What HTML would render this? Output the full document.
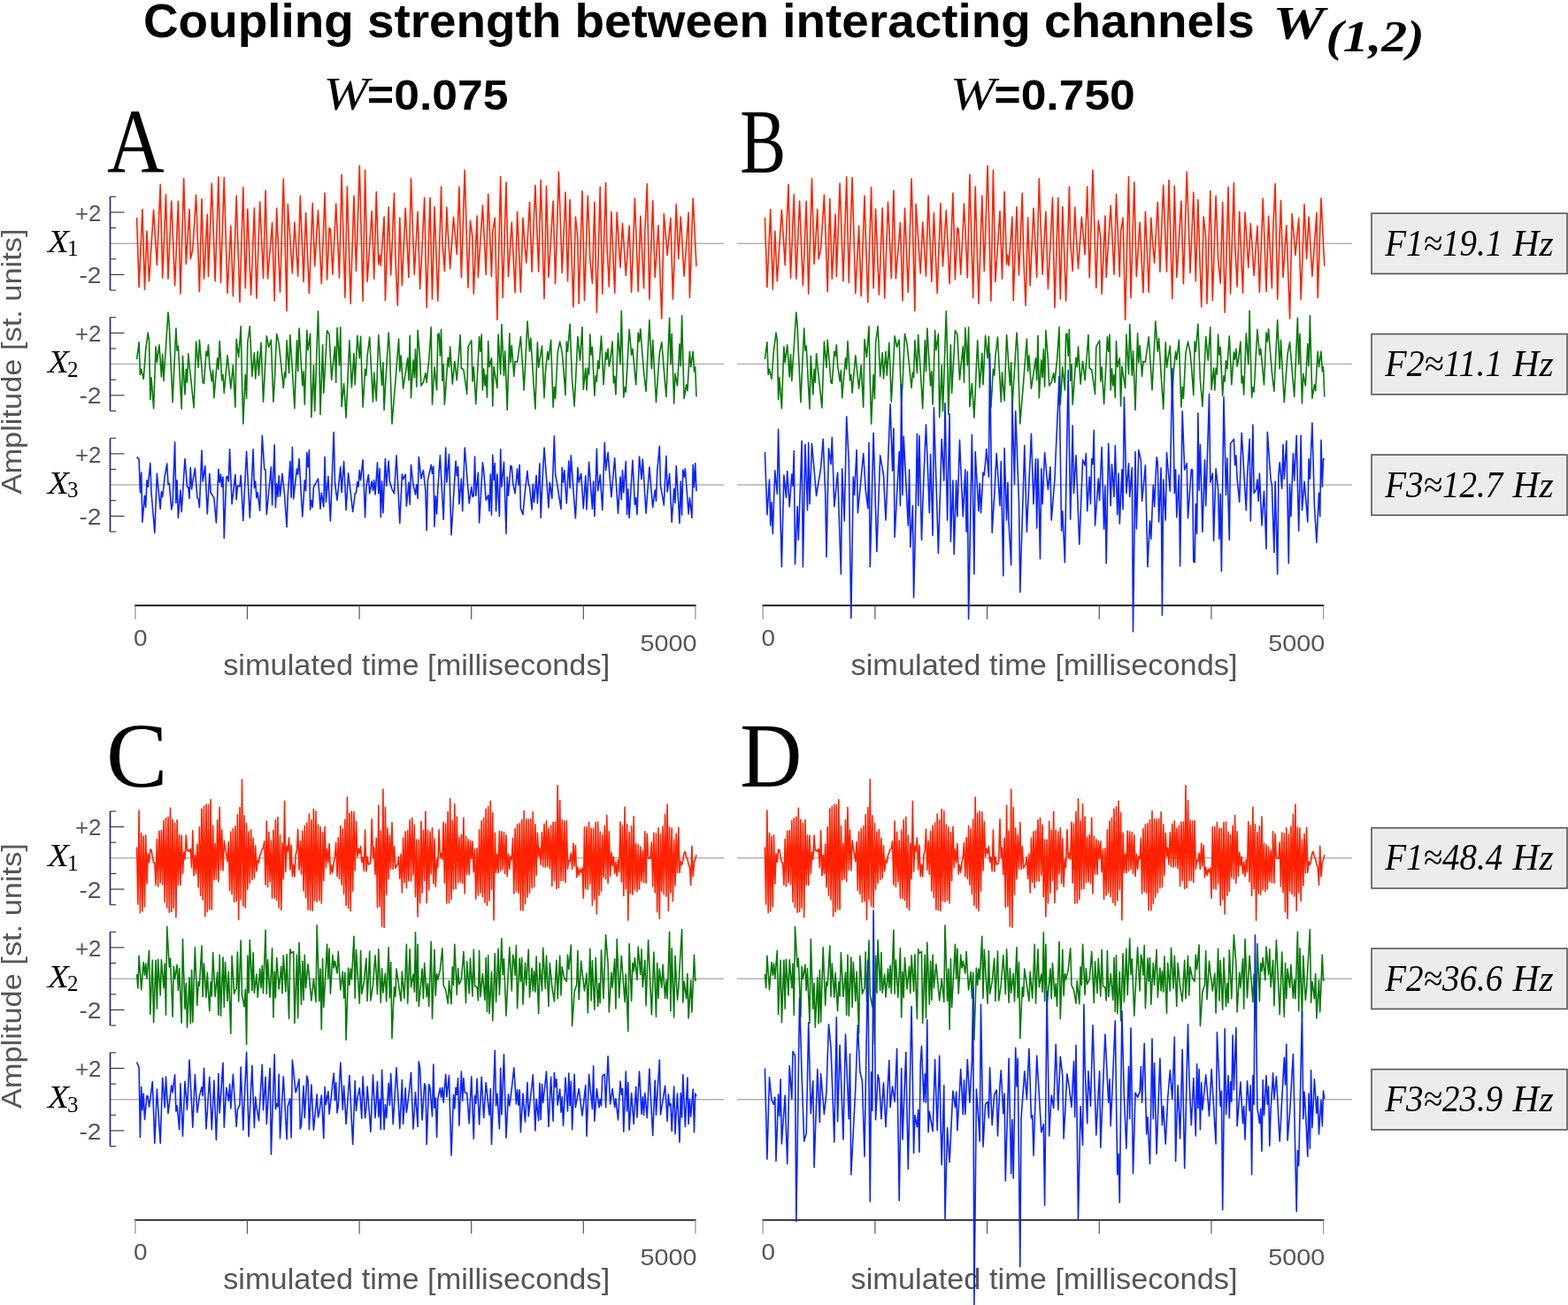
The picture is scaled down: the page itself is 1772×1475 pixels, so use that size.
<!DOCTYPE html><html><head><meta charset="utf-8"><title>Coupling strength</title><style>html,body{margin:0;padding:0;background:#fff;overflow:hidden}svg{display:block}</style></head><body><svg width="1772" height="1475" viewBox="0 0 1772 1475">
<style>.pl{font-family:"Liberation Serif",serif;font-size:104px;fill:#000}.zl{stroke:#b3b3b3;stroke-width:1.5}.ya{stroke:#0b1ca6;stroke-width:1.6}.tk{stroke:#383838;stroke-width:1.15}.tk2{stroke:#999;stroke-width:1.3}.tk3{stroke:#555;stroke-width:1.2}.xa{stroke:#000;stroke-width:1.7}.tl{font-family:"Liberation Sans",sans-serif;font-size:26.5px;fill:#555}.xt{font-family:"Liberation Sans",sans-serif;font-size:33px;fill:#555}.al{font-family:"Liberation Sans",sans-serif;font-size:31px;fill:#555}.xl{font-family:"Liberation Serif",serif;font-style:italic;font-size:35px;fill:#000}.sub{font-family:"Liberation Serif",serif;font-size:25px;fill:#000}.bx{fill:#ececec;stroke:#555;stroke-width:1.6}.bt{font-family:"Liberation Serif",serif;font-style:italic;font-size:42px;fill:#000}.ti{font-family:"Liberation Sans",sans-serif;font-weight:bold;font-size:53px;fill:#000}.hd{font-family:"Liberation Sans",sans-serif;font-weight:bold;font-size:48px;fill:#000}.hw{font-family:"Liberation Serif",serif;font-style:italic;font-size:53px;fill:#000}.sig{fill:none;stroke-width:1.5;stroke-linejoin:round}</style>
<rect width="100%" height="100%" fill="#fff"/>
<text x="162" y="41.5" class="ti" textLength="1255.8" lengthAdjust="spacingAndGlyphs">Coupling strength between interacting channels</text>
<text transform="translate(1438.6 44.2) scale(1.24 1)" class="hw" font-weight="bold">W</text>
<text x="1498.5" y="58.3" class="hw" font-weight="bold" style="font-size:50px" textLength="111" lengthAdjust="spacingAndGlyphs">(1,2)</text>
<text transform="translate(365.5 124.3) scale(1.15 1)" class="hw">W</text>
<text x="415.1" y="123.9" class="hd" textLength="159.3" lengthAdjust="spacingAndGlyphs">=0.075</text>
<text transform="translate(1073.9 124.3) scale(1.15 1)" class="hw">W</text>
<text x="1123.5" y="123.9" class="hd" textLength="159.3" lengthAdjust="spacingAndGlyphs">=0.750</text>
<text transform="translate(121.1 194.5) scale(0.8625 1)" class="pl">A</text>
<text transform="translate(836.25 194.5) scale(0.75 1)" class="pl">B</text>
<line x1="124.5" y1="275.20" x2="818" y2="275.20" class="zl"/>
<line x1="833" y1="275.20" x2="1528" y2="275.20" class="zl"/>
<line x1="124.5" y1="222.34" x2="124.5" y2="328.06" class="ya"/>
<line x1="124.5" y1="328.06" x2="131.0" y2="328.06" class="tk"/>
<line x1="124.5" y1="310.44" x2="140.5" y2="310.44" class="tk"/>
<line x1="124.5" y1="292.82" x2="131.0" y2="292.82" class="tk"/>
<line x1="124.5" y1="257.58" x2="131.0" y2="257.58" class="tk"/>
<line x1="124.5" y1="239.96" x2="140.5" y2="239.96" class="tk"/>
<line x1="124.5" y1="222.34" x2="131.0" y2="222.34" class="tk"/>
<text x="85" y="249.6" class="tl" textLength="29.5" lengthAdjust="spacingAndGlyphs">+2</text>
<text x="89.5" y="320.0" class="tl" textLength="25" lengthAdjust="spacingAndGlyphs">-2</text>
<text transform="translate(54.1 284.8) scale(1.12 1)" class="xl">X</text>
<text x="76" y="289.1" class="sub">1</text>
<line x1="124.5" y1="411.60" x2="818" y2="411.60" class="zl"/>
<line x1="833" y1="411.60" x2="1528" y2="411.60" class="zl"/>
<line x1="124.5" y1="358.74" x2="124.5" y2="464.46" class="ya"/>
<line x1="124.5" y1="464.46" x2="131.0" y2="464.46" class="tk"/>
<line x1="124.5" y1="446.84" x2="140.5" y2="446.84" class="tk"/>
<line x1="124.5" y1="429.22" x2="131.0" y2="429.22" class="tk"/>
<line x1="124.5" y1="393.98" x2="131.0" y2="393.98" class="tk"/>
<line x1="124.5" y1="376.36" x2="140.5" y2="376.36" class="tk"/>
<line x1="124.5" y1="358.74" x2="131.0" y2="358.74" class="tk"/>
<text x="85" y="386.0" class="tl" textLength="29.5" lengthAdjust="spacingAndGlyphs">+2</text>
<text x="89.5" y="456.4" class="tl" textLength="25" lengthAdjust="spacingAndGlyphs">-2</text>
<text transform="translate(54.1 421.2) scale(1.12 1)" class="xl">X</text>
<text x="76" y="425.5" class="sub">2</text>
<line x1="124.5" y1="548.10" x2="818" y2="548.10" class="zl"/>
<line x1="833" y1="548.10" x2="1528" y2="548.10" class="zl"/>
<line x1="124.5" y1="495.24" x2="124.5" y2="600.96" class="ya"/>
<line x1="124.5" y1="600.96" x2="131.0" y2="600.96" class="tk"/>
<line x1="124.5" y1="583.34" x2="140.5" y2="583.34" class="tk"/>
<line x1="124.5" y1="565.72" x2="131.0" y2="565.72" class="tk"/>
<line x1="124.5" y1="530.48" x2="131.0" y2="530.48" class="tk"/>
<line x1="124.5" y1="512.86" x2="140.5" y2="512.86" class="tk"/>
<line x1="124.5" y1="495.24" x2="131.0" y2="495.24" class="tk"/>
<text x="85" y="522.5" class="tl" textLength="29.5" lengthAdjust="spacingAndGlyphs">+2</text>
<text x="89.5" y="592.9" class="tl" textLength="25" lengthAdjust="spacingAndGlyphs">-2</text>
<text transform="translate(54.1 557.7) scale(1.12 1)" class="xl">X</text>
<text x="76" y="562.0" class="sub">3</text>
<text transform="translate(24,408.5) rotate(-90)" class="al" text-anchor="middle" textLength="300" lengthAdjust="spacingAndGlyphs">Amplitude [st. units]</text>
<line x1="152.1" y1="684.4" x2="786.6999999999999" y2="684.4" class="xa"/>
<line x1="152.90" y1="684.4" x2="152.90" y2="699.9" class="tk2"/>
<line x1="279.50" y1="684.4" x2="279.50" y2="699.9" class="tk3"/>
<line x1="406.10" y1="684.4" x2="406.10" y2="699.9" class="tk3"/>
<line x1="532.70" y1="684.4" x2="532.70" y2="699.9" class="tk3"/>
<line x1="659.30" y1="684.4" x2="659.30" y2="699.9" class="tk3"/>
<line x1="785.90" y1="684.4" x2="785.90" y2="699.9" class="tk2"/>
<text x="151.1" y="729.6" class="tl" textLength="15.5" lengthAdjust="spacingAndGlyphs">0</text>
<text x="723.6" y="735.6999999999999" class="tl" textLength="64" lengthAdjust="spacingAndGlyphs">5000</text>
<text x="252.2" y="762.5" class="xt" textLength="437" lengthAdjust="spacingAndGlyphs">simulated time [milliseconds]</text>
<line x1="861.4000000000001" y1="684.4" x2="1496.3999999999999" y2="684.4" class="xa"/>
<line x1="862.20" y1="684.4" x2="862.20" y2="699.9" class="tk2"/>
<line x1="988.88" y1="684.4" x2="988.88" y2="699.9" class="tk3"/>
<line x1="1115.56" y1="684.4" x2="1115.56" y2="699.9" class="tk3"/>
<line x1="1242.24" y1="684.4" x2="1242.24" y2="699.9" class="tk3"/>
<line x1="1368.92" y1="684.4" x2="1368.92" y2="699.9" class="tk3"/>
<line x1="1495.60" y1="684.4" x2="1495.60" y2="699.9" class="tk2"/>
<text x="860.4000000000001" y="729.6" class="tl" textLength="15.5" lengthAdjust="spacingAndGlyphs">0</text>
<text x="1433.3" y="735.6999999999999" class="tl" textLength="64" lengthAdjust="spacingAndGlyphs">5000</text>
<text x="961.5" y="762.5" class="xt" textLength="437" lengthAdjust="spacingAndGlyphs">simulated time [milliseconds]</text>
<text transform="translate(120 889.1) scale(1.0 1)" class="pl">C</text>
<text transform="translate(836.2 889.1) scale(0.934 1)" class="pl">D</text>
<line x1="124.5" y1="969.80" x2="818" y2="969.80" class="zl"/>
<line x1="833" y1="969.80" x2="1528" y2="969.80" class="zl"/>
<line x1="124.5" y1="916.94" x2="124.5" y2="1022.66" class="ya"/>
<line x1="124.5" y1="1022.66" x2="131.0" y2="1022.66" class="tk"/>
<line x1="124.5" y1="1005.04" x2="140.5" y2="1005.04" class="tk"/>
<line x1="124.5" y1="987.42" x2="131.0" y2="987.42" class="tk"/>
<line x1="124.5" y1="952.18" x2="131.0" y2="952.18" class="tk"/>
<line x1="124.5" y1="934.56" x2="140.5" y2="934.56" class="tk"/>
<line x1="124.5" y1="916.94" x2="131.0" y2="916.94" class="tk"/>
<text x="85" y="944.2" class="tl" textLength="29.5" lengthAdjust="spacingAndGlyphs">+2</text>
<text x="89.5" y="1014.6" class="tl" textLength="25" lengthAdjust="spacingAndGlyphs">-2</text>
<text transform="translate(54.1 979.4) scale(1.12 1)" class="xl">X</text>
<text x="76" y="983.7" class="sub">1</text>
<line x1="124.5" y1="1106.20" x2="818" y2="1106.20" class="zl"/>
<line x1="833" y1="1106.20" x2="1528" y2="1106.20" class="zl"/>
<line x1="124.5" y1="1053.34" x2="124.5" y2="1159.06" class="ya"/>
<line x1="124.5" y1="1159.06" x2="131.0" y2="1159.06" class="tk"/>
<line x1="124.5" y1="1141.44" x2="140.5" y2="1141.44" class="tk"/>
<line x1="124.5" y1="1123.82" x2="131.0" y2="1123.82" class="tk"/>
<line x1="124.5" y1="1088.58" x2="131.0" y2="1088.58" class="tk"/>
<line x1="124.5" y1="1070.96" x2="140.5" y2="1070.96" class="tk"/>
<line x1="124.5" y1="1053.34" x2="131.0" y2="1053.34" class="tk"/>
<text x="85" y="1080.6" class="tl" textLength="29.5" lengthAdjust="spacingAndGlyphs">+2</text>
<text x="89.5" y="1151.0" class="tl" textLength="25" lengthAdjust="spacingAndGlyphs">-2</text>
<text transform="translate(54.1 1115.8) scale(1.12 1)" class="xl">X</text>
<text x="76" y="1120.1" class="sub">2</text>
<line x1="124.5" y1="1242.70" x2="818" y2="1242.70" class="zl"/>
<line x1="833" y1="1242.70" x2="1528" y2="1242.70" class="zl"/>
<line x1="124.5" y1="1189.84" x2="124.5" y2="1295.56" class="ya"/>
<line x1="124.5" y1="1295.56" x2="131.0" y2="1295.56" class="tk"/>
<line x1="124.5" y1="1277.94" x2="140.5" y2="1277.94" class="tk"/>
<line x1="124.5" y1="1260.32" x2="131.0" y2="1260.32" class="tk"/>
<line x1="124.5" y1="1225.08" x2="131.0" y2="1225.08" class="tk"/>
<line x1="124.5" y1="1207.46" x2="140.5" y2="1207.46" class="tk"/>
<line x1="124.5" y1="1189.84" x2="131.0" y2="1189.84" class="tk"/>
<text x="85" y="1217.1" class="tl" textLength="29.5" lengthAdjust="spacingAndGlyphs">+2</text>
<text x="89.5" y="1287.5" class="tl" textLength="25" lengthAdjust="spacingAndGlyphs">-2</text>
<text transform="translate(54.1 1252.3) scale(1.12 1)" class="xl">X</text>
<text x="76" y="1256.6" class="sub">3</text>
<text transform="translate(24,1103.1) rotate(-90)" class="al" text-anchor="middle" textLength="300" lengthAdjust="spacingAndGlyphs">Amplitude [st. units]</text>
<line x1="152.1" y1="1379.0" x2="786.6999999999999" y2="1379.0" class="xa"/>
<line x1="152.90" y1="1379.0" x2="152.90" y2="1394.5" class="tk2"/>
<line x1="279.50" y1="1379.0" x2="279.50" y2="1394.5" class="tk3"/>
<line x1="406.10" y1="1379.0" x2="406.10" y2="1394.5" class="tk3"/>
<line x1="532.70" y1="1379.0" x2="532.70" y2="1394.5" class="tk3"/>
<line x1="659.30" y1="1379.0" x2="659.30" y2="1394.5" class="tk3"/>
<line x1="785.90" y1="1379.0" x2="785.90" y2="1394.5" class="tk2"/>
<text x="151.1" y="1424.2" class="tl" textLength="15.5" lengthAdjust="spacingAndGlyphs">0</text>
<text x="723.6" y="1430.3" class="tl" textLength="64" lengthAdjust="spacingAndGlyphs">5000</text>
<text x="252.2" y="1457.1" class="xt" textLength="437" lengthAdjust="spacingAndGlyphs">simulated time [milliseconds]</text>
<line x1="861.4000000000001" y1="1379.0" x2="1496.3999999999999" y2="1379.0" class="xa"/>
<line x1="862.20" y1="1379.0" x2="862.20" y2="1394.5" class="tk2"/>
<line x1="988.88" y1="1379.0" x2="988.88" y2="1394.5" class="tk3"/>
<line x1="1115.56" y1="1379.0" x2="1115.56" y2="1394.5" class="tk3"/>
<line x1="1242.24" y1="1379.0" x2="1242.24" y2="1394.5" class="tk3"/>
<line x1="1368.92" y1="1379.0" x2="1368.92" y2="1394.5" class="tk3"/>
<line x1="1495.60" y1="1379.0" x2="1495.60" y2="1394.5" class="tk2"/>
<text x="860.4000000000001" y="1424.2" class="tl" textLength="15.5" lengthAdjust="spacingAndGlyphs">0</text>
<text x="1433.3" y="1430.3" class="tl" textLength="64" lengthAdjust="spacingAndGlyphs">5000</text>
<text x="961.5" y="1457.1" class="xt" textLength="437" lengthAdjust="spacingAndGlyphs">simulated time [milliseconds]</text>
<g transform="scale(0.1)" fill="none" stroke-width="16" stroke-linejoin="round"><path transform="translate(1546 2752)" stroke="#ff2200" d="M0 -292l13 393 12 393 13-293 13-293 12-294 13 453 13 452 12-329 13-329 12 282 13 282 13-201 12-201 13-201 13-201 12 208 13 207 13 208 12-303 13-304 13-303 12 528 13 528 13-314 12-315 13-315 12 477 13 477 13-293 12-293 13-293 13 318 12 318 13 318 13-318 12-318 13-318 13 524 12 524 13-435 13-434 12-435 13 484 13 483 12-206 13-206 12-206 13 562 13-56 12-56 13-204 13-204 12-204 13 364 13 364 12 364 13-524 13-524 12 452 13 452 13-243 12-243 13-243 12 704 13-351 13-351 12-352 13 368 13 368 12 368 13-393 13-393 12-393 13 599 13 599 12-396 13-397 13-396 12 436 13 436 12 436 13-254 13-254 12-253 13 396 13 396 12-377 13-378 13-377 12 400 13 400 13 400 12-432 13-433 13-432 12 571 13 570 13-447 12-447 13 323 12 323 13 323 13-327 12-327 13-328 13 510 12 510 13-363 13-363 12-363 13 288 13 288 12 288 13-497 13-497 12 499 13 499 12-159 13-158 13-158 12-159 13 443 13 443 12-524 13-524 13 316 12 316 13 316 13-427 12-428 13-427 13 498 12 498 13 498 12-1207 13 195 13 196 12 196 13 196 13-290 12-290 13 204 13 203 12 204 13-453 13-454 12 323 13 323 13 324 12-389 13-389 12 303 13 303 13 303 12-339 13-339 13-339 12 355 13 356 13-210 12-210 13-210 13 276 12 277 13 276 13-342 12-342 13-342 13 488 12 489 13-292 12-291 13 17 13 255 12 254 13-266 13-266 12-266 13 279 13 278 12 279 13-583 13-584 12 464 13 464 13 463 12-626 13-627 12 440 13 441 13 441 12-406 13-406 13-407 12 426 13 425 13-397 12-397 13-397 13 509 12 509 13 510 13-739 12-739 13 630 12 630 13-199 13-199 12-198 13-199 13 382 12 381 13-491 13-492 12 411 13 410 13-106 12 119 13-184 13-184 12-184 13 945 13-353 12-352 13-352 12 385 13 385 13-309 12-309 13-309 13 683 12 294 13 293 13-496 12-496 13 384 13 383 12-291 13-291 13-291 12 260 13 260 12 260 13-559 13-558 12 362 13 362 13 361 12-236 13-236 13-236 12 435 13 436 13-239 12-238 13-278 13-278 12 622 13 623 12-414 13-414 13-414 12 574 13 574 13-524 12-524 13 356 13 355 12 356 13-431 13-430 12-430 13 630 13 162 12 162 13-360 12-361 13 274 13 210 12 210 13-195 13-195 12-194 13 140 13 141 12 140 13-382 13-382 12 513 13 513 13-404 12-405 13-404 13 442 12 443 13 443 12-379 13-379 13 98 12 99 13 630 13-293 12-294 13-293 13 693 12-203 13-203 13-203 12-202 13 260 13 260 12 259 13-455 12-455 13 312 13 312 12 311 13-514 13-74 12-75 13 575 13 575 12-540 13-540 13-539 12 685 13 684 13-434 12-435 13-434 12 533 13 533 13-204 12-205 13-204 13 265 12 264 13 265 13-457 12-457 13 303 13 302 12 303 13-419 13-419 12 182 13 182 13 143 12-228 13-229 12-229 13 393 13 393 12-325 13-326 13-326 12 326 13 326 13 325 12-517 13-518 13 447 12 447 13 447 13-638 12-637 13 516 12 516 13-216 13-215 12-215 13-215 13 468 12 467 13-422 13-422 12-422 13 381 13 380 12 381 13-304 13-303 12-304 13 502 12 502 13-460 13-460 12 404 13 405 13 404 12-509 13-510 13 120 12 120 13 742 13-425 12-426 13-425 13 619 12 620 13-394 12-394 13-394 13 357 12 357 13 137 13 137 12-458 13-459 13 624 12 624 13-473 13-473 12-473 13 604 13 603 12-418 13-418 13-418 12 686 13 243 12 244 13-423 13-423 12 306 13 306 13 306 12-455 13-456 13 208 12 208 13 208 13-249 12-250 13 196 13 197 12 196 13-187 12-187 13-187 13 374 12 374 13-353 13-352 12-353 13 351 13 350 12 351 13-426 13-426 12 271 13 272 13 271 12-632 13-275 12-274 13 653 13 653 12-372 13-372 13-372 12 433 13 434 13-196 12-195 13-196 13 352 12 351 13 351 13-592 12-593 13 156 13 156 12 156 13-139 12-139 13-140 13 459 12 458 13-357 13-358 12-358 13 308 13 307 12-237 13-237 13 224 12 223 13 223 13-179 12-179 13-180 12-179 13 960 13-374 12-374 13-374 13 255 12 256 13 256"/>
<path transform="translate(1546 4116)" stroke="#067a08" d="M0 -55l13-97 12-97 13 368 13-62 12 56 13 56 13-167 12-167 13-95 12-95 13 88 13 667 12-249 13 174 13 175 12-349 13-350 13 181 12-100 13-99 13 180 12 181 13-255 13 299 12-193 13-194 12-193 13-193 13 143 12 291 13 291 13 291 12-278 13-279 13-279 12 250 13-50 13 237 12 237 13 237 13-599 12 219 13 218 13-287 12 150 13-325 12 123 13 122 13 122 12 122 13 123 13-375 12-374 13 147 13 146 12-312 13 161 13 160 12 160 13 12 13-181 12-181 13 50 12-124 13 230 13 91 12 90 13-124 13 311 12-149 13-150 13-150 12 125 13-318 13 221 12 222 13-63 13 206 12-141 13-142 12-141 13 125 13 125 12 124 13-131 13-131 12 237 13 237 13-767 12 100 13 100 13-175 12-174 13 630 13 474 12-278 13-278 13 269 12-630 13-94 12-93 13 283 13 284 12-134 13-134 13 293 12-153 13-153 13 269 12-184 13-184 13 333 12 334 13-247 13-248 12-247 13 62 12 63 13-41 13-41 12 350 13 349 13-200 12-283 13-284 13 55 12 55 13 125 13 125 12 126 13 125 13-175 12 57 13-418 12 184 13 184 13-431 12 201 13 201 13 214 12 214 13-384 13-383 12 349 13-487 13 217 12 216 13 216 13-162 12 374 13-419 12-419 13 224 13-92 12-92 13 942 13-293 12-294 13 518 13-376 12-377 13-376 13 499 12 668 13-393 13-393 12 542 13-235 13-235 12-235 13 22 12 22 13 256 13 256 12-125 13-125 13-125 12 406 13-618 13 212 12 212 13-430 13 898 12-131 13-131 13 194 12 193 13-291 12-291 13-291 13 265 12 265 13-193 13-194 12 356 13-278 13-277 12 127 13 128 13-245 12 400 13 400 13-215 12-215 13 69 12-219 13-106 13-106 12 244 13 243 13 243 12-331 13 160 13 159 12-372 13-371 13 190 12 189 13 189 13-256 12 537 13-256 13-206 12-206 13-206 12 194 13 418 13 418 12-154 13-154 13-154 12-166 13-167 13-166 12 368 13-181 13 187 12 187 13-85 13-86 12-86 13-86 12 250 13-505 13 704 12-215 13-215 13 200 12-318 13 424 13-639 12 166 13 167 13 293 12-19 13-18 13-53 12-53 13 106 12-124 13-123 13-189 12-188 13 873 13-212 12-212 13 131 13 131 12-630 13-12 13 255 12-299 13 580 13-187 12 455 13-176 12-177 13-177 13 106 12-231 13 212 13 212 12-127 13-128 13 106 12 106 13-171 13-170 12-171 13 375 13 9 12 9 13 92 13 91 12 92 13-533 12-24 13-24 13-24 12 461 13-162 13 209 12 209 13-254 13-253 12-254 13 168 13-193 12 630 13-243 13 193 12-125 13 256 12-636 13 293 13-50 12-50 13 543 13-449 12 81 13 81 13 81 12-605 13 225 13 224 12-561 13 290 13 290 12-281 13 334 12 334 13-434 13-433 12 330 13-193 13 174 12 175 13-168 13 3 12 3 13-96 13-95 12-96 13 202 13 201 12 202 13-260 13-260 12-260 13 172 12 171 13-149 13 199 12 200 13 200 13 199 12-377 13-378 13 287 12-81 13-81 13-81 12 293 13 293 13-268 12-128 13-128 12 94 13-112 13-113 12 381 13 380 13-230 12 131 13-258 13-258 12-63 13-64 13 63 12 62 13 137 13 172 12 171 13-605 12 112 13-154 13-155 12 317 13 317 13 146 12 147 13-262 13-262 12-262 13 134 13 134 12-187 13-187 13 705 12-122 13-121 12 249 13-249 13 68 12-449 13 231 13-87 12 274 13 274 13-224 12 62 13-231 13 88 12-184 13-184 13 274 12 275 13-184 13-184 12 81 13-119 12 200 13-63 13-109 12-109 13 468 13-75 12 206 13-346 13-346 12 174 13 175 13-605 12 490 13 489 13-112 12 50 13-235 12-235 13-235 13 143 12 144 13-69 13 135 12 136 13 135 13-293 12-294 13 100 13-143 12 164 13 164 13 164 12 107 13 106 12-269 13-268 13-268 12 274 13 275 13-325 12 235 13 235 13 235 12-182 13-182 13-182 12-67 13-67 13 155 12 154 13 155 13 154 12-297 13-298 12-297 13 524 13-343 12 393 13 393 13-337 12 69 13 68 13-237 12-237 13 250 13-568 12 468 13 468 13-78 12-78 13 68 12-221 13-222 13 175 12-87 13-88 13 225 12-50 13 337"/>
<path d="M1546 5166l13 13 12 12 13 375 13-225 12 561 13-149 13-150 12 131 13-306 12 75 13-134 13-134 12 331 13 151 13 152 12 152 13-334 13-334 12 134 13 133 13 133 12-194 13 56 13-115 12-115 13-72 12-72 13 231 13-6 12 146 13 147 13-56 12-353 13-352 13 686 12-256 13 424 13-155 12-156 13 243 13-200 12-199 13-200 13 159 12 159 13 6 12 125 13-349 13 243 12-79 13-79 13-79 12 168 13 169 13 12 12 94 13-321 13-322 12 350 13-88 13-87 12 271 13 272 12-228 13-228 13 213 12 20 13 21 13 21 12 140 13 141 13-303 12-302 13 149 13-93 12 143 13-112 13 692 12-346 13-346 12-6 13 56 13-362 12 309 13 309 13-111 12-110 13-110 13 281 12-156 13 3 13 3 12-125 13 256 13 256 12-260 13-260 13-260 12 249 13 250 12 249 13-257 13-258 12-258 13 437 13-75 12 187 13-62 13 102 12 103 13-424 13-424 12 190 13 191 13 6 12 505 13-134 12-134 13-134 13-134 12 430 13-340 13-340 12 705 13-268 13 149 12-237 13 231 13-128 12-128 13 122 13 122 12 181 13 180 12-361 13-191 13-190 12 406 13-568 13 586 12-113 13-113 13-113 12 59 13-175 13 218 12 219 13 218 13-206 12-206 13 119 12-431 13 163 13-194 12 674 13-106 13 81 12-225 13-25 13-25 12-24 13-25 13 171 12 172 13-181 13 78 12 78 13-562 13 506 12-144 13-143 12 252 13 253 13-335 12-335 13-334 13 567 12 100 13 100 13-125 12-125 13-124 13 287 12-175 13-175 13 275 12 274 13-209 12-209 13 109 13 110 12 109 13 109 13-103 12-103 13-6 13-125 12 56 13-187 13 112 12-115 13-115 13 324 12 324 13-343 12-68 13-69 13 212 12-69 13-68 13 100 12-113 13 162 13-180 12-181 13 349 13-281 12 549 13-405 13 355 12-305 13-306 13 306 12-141 13-140 12 231 13 43 13 44 12 25 13 25 13-215 12-215 13 255 13 256 12 256 13-278 13-277 12 56 13-28 13-28 12 361 13-134 12-134 13 250 13-449 12 112 13 112 13 56 12 56 13-112 13 156 12-468 13 122 13 122 12-47 13-47 13 119 12 118 13 443 12-570 13-58 13-57 12-57 13 99 13-81 12 680 13-343 13 200 12-281 13-190 13-190 12 241 13 241 13 241 12-405 13-406 12 393 13-159 13-159 12 455 13 456 13-209 12-209 13-209 13-209 12 168 13-106 13 425 12-144 13-143 13 368 12-359 13-359 13 159 12 159 13 156 12 156 13-93 13-94 12 112 13-12 13-443 12 443 13-131 13-131 12 568 13-227 13-227 12-226 13 93 13 166 12 165 13-28 12-28 13 181 13-418 12 461 13-680 13 287 12-193 13 543 13-418 12 237 13 237 13-755 12 424 13-140 13-141 12 406 13 405 12-642 13 212 13-168 12-169 13 6 13 181 12 63 13 62 13-140 12-141 13 187 13-230 12 492 13 35 13 34 12-137 13-137 13-110 12-109 13 156 12 19 13 131 13 131 12-287 13 206 13-153 12-153 13 318 13-224 12-225 13 611 13-311 12-241 13-240 13 170 12 170 13 170 12 170 13-287 13 91 12 90 13-352 13-353 12 424 13 77 13 76 12 82 13 82 13 83 12-468 13 168 13-137 12 187 13 187 12-240 13-240 13 306 12-368 13 191 13 192 12 164 13 164 13-287 12-287 13 168 13-50 12-50 13 197 13 196 12-184 13-184 12 381 13-268 13-269 12 177 13 177 13 177 12-312 13 393 13-381 12-380 13 474 13-91 12-90 13 200 13 199 12-380 13-381 13 312 12-100 13-100 12 168 13 167 13 167 12-146 13-147 13-146 12 208 13 208 13 208 12-206 13-206 13 256 12-331 13 250 13-175 12-175 13 599 12-287 13 324 13-216 12-216 13-216 13 249 12 250 13-75 13 187 12-327 13-328 13 128 12 128 13-225 13 204 12 204 13 204 12-175 13-175 13-174 12 151 13 152 13 152 12-98 13-98 13 127 12-334 13-145 13-144 12 449 13 72 13 73 12 73 13-278 13-277 12 405 13-101 12-102 13 273 13 273 12-190 13-190 13 162 12-418 13 216 13 217 12 216 13-474 13 380 12-511 13 81 13-94 12 171 13 170 12 171 13-181 13 112 12 112 13-598 13 255 12-274 13 318" stroke="#0b24ff"/>
<path transform="translate(8644 2752)" stroke="#ff2200" d="M0 -292l13 393 12 393 13-293 13-293 12-294 13 453 13 452 12-329 13-329 12 282 13 282 13-201 12-201 13-201 13-201 12 208 13 207 13 208 12-303 13-304 13-303 12 528 13 528 13-314 12-315 13-315 12 477 13 477 13-293 12-293 13-293 13 318 12 318 13 318 13-318 12-318 13-318 13 524 12 524 13-435 13-434 12-435 13 484 13 483 12-206 13-206 12-206 13 562 13-56 12-56 13-204 13-204 12-204 13 364 13 364 12 364 13-524 13-524 12 452 13 452 13-243 12-243 13-243 12 704 13-351 13-351 12-352 13 368 13 368 12 368 13-393 13-393 12-393 13 599 13 599 12-396 13-397 13-396 12 436 13 436 12 436 13-254 13-254 12-253 13 396 13 396 12-377 13-378 13-377 12 400 13 400 13 400 12-432 13-433 13-432 12 571 13 570 13-447 12-447 13 323 12 323 13 323 13-327 12-327 13-328 13 510 12 510 13-363 13-363 12-363 13 288 13 288 12 288 13-497 13-497 12 499 13 499 12-159 13-158 13-158 12-159 13 443 13 443 12-524 13-524 13 316 12 316 13 316 13-427 12-428 13-427 13 498 12 498 13 498 12-1207 13 195 13 196 12 196 13 196 13-290 12-290 13 204 13 203 12 204 13-453 13-454 12 323 13 323 13 324 12-389 13-389 12 303 13 303 13 303 12-339 13-339 13-339 12 355 13 356 13-210 12-210 13-210 13 276 12 277 13 276 13-342 12-342 13-342 13 488 12 489 13-292 12-291 13 17 13 255 12 254 13-266 13-266 12-266 13 279 13 278 12 279 13-583 13-584 12 464 13 464 13 463 12-626 13-627 12 440 13 441 13 441 12-406 13-406 13-407 12 426 13 425 13-397 12-397 13-397 13 509 12 509 13 510 13-739 12-739 13 630 12 630 13-199 13-199 12-198 13-199 13 382 12 381 13-491 13-492 12 411 13 410 13-106 12 119 13-184 13-184 12-184 13 945 13-353 12-352 13-352 12 385 13 385 13-309 12-309 13-309 13 683 12 294 13 293 13-496 12-496 13 384 13 383 12-291 13-291 13-291 12 260 13 260 12 260 13-559 13-558 12 362 13 362 13 361 12-236 13-236 13-236 12 435 13 436 13-239 12-238 13-278 13-278 12 622 13 623 12-414 13-414 13-414 12 574 13 574 13-524 12-524 13 356 13 355 12 356 13-431 13-430 12-430 13 630 13 162 12 162 13-360 12-361 13 274 13 210 12 210 13-195 13-195 12-194 13 140 13 141 12 140 13-382 13-382 12 513 13 513 13-404 12-405 13-404 13 442 12 443 13 443 12-379 13-379 13 98 12 99 13 630 13-293 12-294 13-293 13 693 12-203 13-203 13-203 12-202 13 260 13 260 12 259 13-455 12-455 13 312 13 312 12 311 13-514 13-74 12-75 13 575 13 575 12-540 13-540 13-539 12 685 13 684 13-434 12-435 13-434 12 533 13 533 13-204 12-205 13-204 13 265 12 264 13 265 13-457 12-457 13 303 13 302 12 303 13-419 13-419 12 182 13 182 13 143 12-228 13-229 12-229 13 393 13 393 12-325 13-326 13-326 12 326 13 326 13 325 12-517 13-518 13 447 12 447 13 447 13-638 12-637 13 516 12 516 13-216 13-215 12-215 13-215 13 468 12 467 13-422 13-422 12-422 13 381 13 380 12 381 13-304 13-303 12-304 13 502 12 502 13-460 13-460 12 404 13 405 13 404 12-509 13-510 13 120 12 120 13 742 13-425 12-426 13-425 13 619 12 620 13-394 12-394 13-394 13 357 12 357 13 137 13 137 12-458 13-459 13 624 12 624 13-473 13-473 12-473 13 604 13 603 12-418 13-418 13-418 12 686 13 243 12 244 13-423 13-423 12 306 13 306 13 306 12-455 13-456 13 208 12 208 13 208 13-249 12-250 13 196 13 197 12 196 13-187 12-187 13-187 13 374 12 374 13-353 13-352 12-353 13 351 13 350 12 351 13-426 13-426 12 271 13 272 13 271 12-632 13-275 12-274 13 653 13 653 12-372 13-372 13-372 12 433 13 434 13-196 12-195 13-196 13 352 12 351 13 351 13-592 12-593 13 156 13 156 12 156 13-139 12-139 13-140 13 459 12 458 13-357 13-358 12-358 13 308 13 307 12-237 13-237 13 224 12 223 13 223 13-179 12-179 13-180 12-179 13 960 13-374 12-374 13-374 13 255 12 256 13 256"/>
<path transform="translate(8644 4116)" stroke="#067a08" d="M0 -55l13-97 12-97 13 368 13-62 12 56 13 56 13-167 12-167 13-95 12-95 13 88 13 667 12-249 13 174 13 175 12-349 13-350 13 181 12-100 13-99 13 180 12 181 13-255 13 299 12-193 13-194 12-193 13-193 13 143 12 291 13 291 13 291 12-278 13-279 13-279 12 250 13-50 13 237 12 237 13 237 13-599 12 219 13 218 13-287 12 150 13-325 12 123 13 122 13 122 12 122 13 123 13-375 12-374 13 147 13 146 12-312 13 161 13 160 12 160 13 12 13-181 12-181 13 50 12-124 13 230 13 91 12 90 13-124 13 311 12-149 13-150 13-150 12 125 13-318 13 221 12 222 13-63 13 206 12-141 13-142 12-141 13 125 13 125 12 124 13-131 13-131 12 237 13 237 13-767 12 100 13 100 13-175 12-174 13 630 13 474 12-278 13-278 13 269 12-630 13-94 12-93 13 283 13 284 12-134 13-134 13 293 12-153 13-153 13 269 12-184 13-184 13 333 12 334 13-247 13-248 12-247 13 62 12 63 13-41 13-41 12 350 13 349 13-200 12-283 13-284 13 55 12 55 13 125 13 125 12 126 13 125 13-175 12 57 13-418 12 184 13 184 13-431 12 201 13 201 13 214 12 214 13-384 13-383 12 349 13-487 13 217 12 216 13 216 13-162 12 374 13-419 12-419 13 224 13-92 12-92 13 942 13-293 12-294 13 518 13-376 12-377 13-376 13 499 12 668 13-393 13-393 12 542 13-235 13-235 12-235 13 22 12 22 13 256 13 256 12-125 13-125 13-125 12 406 13-618 13 212 12 212 13-430 13 898 12-131 13-131 13 194 12 193 13-291 12-291 13-291 13 265 12 265 13-193 13-194 12 356 13-278 13-277 12 127 13 128 13-245 12 400 13 400 13-215 12-215 13 69 12-219 13-106 13-106 12 244 13 243 13 243 12-331 13 160 13 159 12-372 13-371 13 190 12 189 13 189 13-256 12 537 13-256 13-206 12-206 13-206 12 194 13 418 13 418 12-154 13-154 13-154 12-166 13-167 13-166 12 368 13-181 13 187 12 187 13-85 13-86 12-86 13-86 12 250 13-505 13 704 12-215 13-215 13 200 12-318 13 424 13-639 12 166 13 167 13 293 12-19 13-18 13-53 12-53 13 106 12-124 13-123 13-189 12-188 13 873 13-212 12-212 13 131 13 131 12-630 13-12 13 255 12-299 13 580 13-187 12 455 13-176 12-177 13-177 13 106 12-231 13 212 13 212 12-127 13-128 13 106 12 106 13-171 13-170 12-171 13 375 13 9 12 9 13 92 13 91 12 92 13-533 12-24 13-24 13-24 12 461 13-162 13 209 12 209 13-254 13-253 12-254 13 168 13-193 12 630 13-243 13 193 12-125 13 256 12-636 13 293 13-50 12-50 13 543 13-449 12 81 13 81 13 81 12-605 13 225 13 224 12-561 13 290 13 290 12-281 13 334 12 334 13-434 13-433 12 330 13-193 13 174 12 175 13-168 13 3 12 3 13-96 13-95 12-96 13 202 13 201 12 202 13-260 13-260 12-260 13 172 12 171 13-149 13 199 12 200 13 200 13 199 12-377 13-378 13 287 12-81 13-81 13-81 12 293 13 293 13-268 12-128 13-128 12 94 13-112 13-113 12 381 13 380 13-230 12 131 13-258 13-258 12-63 13-64 13 63 12 62 13 137 13 172 12 171 13-605 12 112 13-154 13-155 12 317 13 317 13 146 12 147 13-262 13-262 12-262 13 134 13 134 12-187 13-187 13 705 12-122 13-121 12 249 13-249 13 68 12-449 13 231 13-87 12 274 13 274 13-224 12 62 13-231 13 88 12-184 13-184 13 274 12 275 13-184 13-184 12 81 13-119 12 200 13-63 13-109 12-109 13 468 13-75 12 206 13-346 13-346 12 174 13 175 13-605 12 490 13 489 13-112 12 50 13-235 12-235 13-235 13 143 12 144 13-69 13 135 12 136 13 135 13-293 12-294 13 100 13-143 12 164 13 164 13 164 12 107 13 106 12-269 13-268 13-268 12 274 13 275 13-325 12 235 13 235 13 235 12-182 13-182 13-182 12-67 13-67 13 155 12 154 13 155 13 154 12-297 13-298 12-297 13 524 13-343 12 393 13 393 13-337 12 69 13 68 13-237 12-237 13 250 13-568 12 468 13 468 13-78 12-78 13 68 12-221 13-222 13 175 12-87 13-88 13 225 12-50 13 337"/>
<path d="M8644 5106l13 356 12 356 13-199 13-198 12 519 13-265 13 356 12-356 13-356 12 133 13 132 13-732 12 518 13 519 13 519 12-519 13-519 13 127 12 128 13-299 13 200 12 200 13-183 13-183 12 132 13-396 12 1281 13-325 13-326 12 377 13-373 13-373 12-373 13 1424 13-692 12-691 13 371 13 371 12-763 13 692 13-341 12-341 13 148 13 147 12 148 13 147 12-79 13-78 13-79 12-79 13-163 13-162 12 305 13 305 13 722 12-616 13-615 13 92 12 91 13-305 13 392 12 391 13-129 12-128 13-129 13 383 12 383 13 383 13-1190 12 295 13 295 13-590 12-590 13 260 13 259 12 880 13 879 13-798 12-798 13 203 12-254 13-254 13 711 12-132 13-132 13-132 12-132 13-143 13 204 12 203 13 107 13 107 12-743 13 1404 13-505 12-506 13-505 13 448 12 447 13 448 12-363 13-363 13-362 12 74 13 75 13 74 12 255 13 254 13-305 12-336 13-335 13-336 12 376 13 376 13-477 12 1230 13-242 12-241 13-242 13-241 12 610 13-1373 13 1251 12-661 13 252 13 251 12 252 13 252 13-631 12 875 13-234 13-234 12 1037 13-539 12-539 13-772 13 813 12-793 13 590 13 590 12-367 13-366 13-284 12-285 13 332 13 332 12 332 13-661 13 458 12 458 13-1444 12 411 13 412 13 412 12 412 13-430 13-431 12-430 13 233 13 234 12-874 13 661 13 661 12-600 13-600 13 1444 12-346 13-346 13 834 12-417 13-417 12 407 13-432 13-432 12 288 13 288 13 288 12-264 13-265 13 702 12-681 13 1667 13-694 12-695 13-695 13 788 12 788 13-1383 12 224 13 223 13 224 12-315 13 335 13-228 12-229 13 30 13-147 12-148 13 158 13 158 12-1392 13 1011 13 1011 12-203 13-204 12-244 13-244 13 197 12 196 13 197 13-498 12 646 13 645 13-1444 12 407 13 407 13-427 12 467 13 234 13 234 12-1851 13 468 13 468 12-824 13 343 12 342 13 342 13 1017 12-414 13-414 13-415 12-414 13 488 13 488 12-277 13-277 13-277 12-277 13 396 13 397 12-254 13-255 12 783 13-783 13 565 12 564 13-1017 13 397 12-290 13-290 13 139 12 139 13 139 13-127 12-127 13 600 13-156 12-156 13-156 12-290 13-290 13-289 12-290 13 874 13 875 12-224 13 290 13 290 12-724 13-724 13-724 12 842 13 842 13-529 12-529 13 763 12-214 13-213 13 335 12 336 13 335 13-318 12-319 13-319 13 31 12 30 13-132 13 651 12-193 13-193 13 305 12-509 13 61 13-386 12 1078 13-176 12-177 13-176 13 244 12-300 13-300 13 463 12 462 13-488 13 875 12-676 13-677 13 351 12 351 13-468 13 183 12 183 13-579 12 391 13 392 13-468 12 569 13-305 13-305 12 448 13-1269 13 543 12 543 13-168 13-168 12 376 13-162 13-163 12 1851 13-1017 12-1017 13 874 13-447 12-447 13 61 13 61 12 457 13-135 13-136 12-136 13 575 13 575 12-260 13-259 13 203 12-305 13-305 13 244 12-279 13-280 12 61 13 671 13-305 12-305 13 1666 13-1534 12 229 13 229 13-763 12 146 13 146 13 145 12-695 13-696 13 706 12 706 13-265 12 539 13-239 13-239 12 1027 13-874 13-875 12 331 13 330 13-35 12-36 13 620 13-183 12-183 13-183 13 0 12 1038 13 10 12-661 13 335 13-1362 12 874 13-518 13 493 12 493 13-407 13-407 12 519 13-420 13-421 12-420 13 997 13-51 12-51 13 763 12-407 13-407 13 117 12 117 13 559 13-508 12 874 13-986 13-986 12 554 13 554 13-417 12 463 13 463 13-1089 12-17 13-16 13-17 12 294 13-111 12 264 13 132 13 132 12-391 13-392 13 219 12 219 13 218 13 219 12-376 13-214 13-213 12 925 13-544 13-544 12 773 13-21 12-20 13-112 13 244 12-315 13 295 13 295 12-193 13-194 13 326 12 325 13-1322 13 180 12 180 13 179 13 61 12 382 13 381 12-803 13 523 13 524 12-1108 13-153 13 147 12 148 13-498 13 386 12-214 13-213 13 691 12 692 13-895 13 366 12-356 13-356 13 305 12-254 13-254 12 539 13 539 13-539 12-539 13 844 13-163 12-162 13 152 13 153 12 152 13-712 13 224 12-315 13-315 13 467 12 468 13 209 12 208 13-280 13-279 12 264 13-864 13 529 12-316 13 0" stroke="#0b24ff"/>
<path transform="translate(1546 9698)" stroke="#ff2200" d="M0 -122l13 645 12-1060 13 1156 13-898 12 880 13-845 13 796 12-810 13 550 12-339 13 93 13-141 12 3 13 83 13 60 12 1 13 251 13-516 12 535 13-627 13 585 12-592 13 611 13-722 12 919 13-947 12 1011 13-1025 13 1079 12-1180 13 1173 13-1043 12 1002 13-958 13 1061 12-1099 13 737 13-566 12 566 13-561 13 431 12-244 13 81 13-272 12 178 13-9 12 16 13-31 13 212 12-418 13 510 13-233 12 213 13-338 13 488 12-683 13 780 13-984 12 1029 13-1055 13 1242 12-1265 13 1214 12-1211 13 1182 13-1239 12 1243 13-947 13 613 12-411 13 399 13-668 12 698 13-839 13 705 12-451 13 459 13-339 12 87 13 63 12 88 13-223 13 550 12-665 13 706 13-740 12 828 13-855 13 845 12-977 13 1189 13-1267 12 1037 13-1355 13 1430 12-1024 13 1043 13-954 12 747 13-652 12 581 13-605 13 567 12-470 13 452 13-368 12 289 13-127 13 29 12-81 13-30 13-41 12-8 13-80 13 492 12-721 13 745 12-621 13 560 13-463 12 650 13-769 13 772 12-886 13 909 13-941 12 1022 13-817 13 845 12-756 13 405 13-880 12 798 13-290 12 59 13-155 13 363 12-278 13 355 13-136 12 139 13-245 13-58 12-234 13 459 13-327 12 376 13-487 13 677 12-739 13 814 12-845 13 980 13-1081 12 1087 13-1018 13 1026 12-1149 13 1036 13-1013 12 1024 13-873 13 856 12-828 13 861 13-803 12 550 13-612 13 462 12-208 13 150 12-212 13 343 13-101 12 84 13-114 13-68 12-155 13 381 13-438 12 465 13-599 13 666 12-632 13 738 13-843 12 971 13-1224 12 1254 13-1072 13 1106 12-1127 13 901 13-894 12 661 13-554 13 396 12-91 13 56 13-81 12 177 13-55 13 159 12-466 13 470 12-168 13 87 13-1 12-23 13-486 13 436 12-116 13 306 13-411 12 782 13-1154 13 1142 12-853 13 1080 13-1551 12 1562 13-1356 13 983 12-748 13 574 12-497 13 383 13-526 12 529 13-259 13 246 12-23 13-18 13-88 12 251 13-281 13 437 12-619 13 505 13-575 12 637 13-650 12 571 13-690 13 692 12-715 13 644 13-565 12 814 13-648 13 869 12-866 13 714 13-923 12 809 13-711 13 574 12-784 13 1032 12-821 13 676 13-659 12 477 13-518 13 627 12-506 13 541 13-307 12 87 13-423 13 317 12-51 13 69 13-421 12 688 13-669 12 899 13-1034 13 1030 12-1179 13 1137 13-886 12 775 13-965 13 956 12-813 13 745 13-512 12 505 13-534 13 551 12-744 13 857 13-647 12 429 13-394 12 398 13-381 13 204 12-197 13 346 13-258 12 564 13-575 13 532 12-741 13 712 13-812 12 855 13-889 13 958 12-1061 13 1091 12-1115 13 1062 13-1125 12 997 13-867 13 1214 12-985 13 451 13-213 12 213 13-472 13 451 12-445 13 425 13-415 12 466 13-434 12 464 13-253 13 169 12-140 13 30 13-238 12 628 13-734 13 710 12-759 13 778 13-787 12 979 13-1022 13 1024 12-1124 13 1050 13-958 12 881 13-879 12 832 13-836 13 781 12-860 13 848 13-707 12 577 13-480 13 266 12-100 13 190 13-364 12 388 13-482 13 489 12-524 13 515 12-431 13 454 13-482 12 680 13-722 13 664 12-666 13 756 13-1168 12 1156 13-989 13 910 12-687 13 683 13-671 12 694 13-697 12 545 13-100 13 13 12-91 13 181 13-291 12 255 13-233 13 361 12-114 13 91 13-70 12 35 13-50 13 344 12-806 13 696 12-697 13 705 13-757 12 696 13-626 13 869 12-870 13 807 13-875 12 1036 13-1040 13 830 12-719 13 672 13-638 12 479 13-581 13 600 12-718 13 767 12-584 13 504 13-267 12 149 13-102 13 191 12-132 13 162 13-186 12 140 13-570 13 680 12-637 13 793 13-1001 12 925 13-731 12 1084 13-992 13 692 12-762 13 774 13-882 12 827 13-525 13 545 12-529 13 500 13-476 12 389 13-349 13 363 12-578 13 585 12-558 13 275 13-5 12 10 13-185 13 501 12-607 13 673 13-666 12 887 13-950 13 1025 12-952 13 644 13-735 12 768 13-902 13 925 12-1038 13 1202 12-944 13 741 13-732 12 825 13-694 13 518 12-583 13 440 13-513 12 510 13-125 13 38 12-47 13-88 13-15 12 62 13 21 12 63 13 23 13 210 12-441 13 342 13-164 12-24 13-55"/>
<path transform="translate(1546 11062)" stroke="#067a08" d="M0 -51l13 157 12-364 13 190 13 190 12-155 13-154 13 146 12-130 13 168 12-157 13-157 13 721 12-306 13-307 13 705 12-352 13-353 13 548 12-559 13 204 13 203 12-401 13 160 13 160 12-277 13 581 12-998 13 227 13 228 12-97 13 330 13 331 12-569 13 141 13-82 12-81 13 293 13-250 12 310 13 309 13-949 12 393 13 393 13-287 12 499 13-282 12-283 13 521 13-607 12 591 13-423 13-423 12 328 13 328 13-266 12 44 13-225 13-225 12 574 13-374 13 190 12 190 13-277 12 217 13 217 13-331 12 163 13-494 13 250 12 249 13-138 13-138 12 483 13-678 13 688 12-330 13-331 13 564 12-510 13 220 12 219 13-331 13 350 12 350 13-879 13 215 12 214 13-33 13-32 12-407 13 559 13-345 12-344 13 618 13 65 12 65 13-195 13 618 12-998 13 418 12-597 13 285 13 285 12-429 13 456 13-106 12-105 13 260 13-160 12-160 13 217 13-255 12 314 13-358 13-357 12 721 13-385 12 211 13 212 13-277 12-276 13 781 13-516 12 293 13-450 13 176 12 177 13-128 13-127 12 303 13-428 13 203 12 204 13-418 12 364 13 363 13-787 12 44 13-8 13-8 12 808 13-385 13-385 12 710 13-851 13 349 12 350 13-488 13 439 12-509 13 374 12-136 13-135 13 137 12 137 13 138 13-122 12-122 13 130 13 130 12-868 13 429 13 428 12-363 13 683 13-797 12 548 13-237 13-237 12-237 13 385 12-336 13 510 13-220 12-219 13 146 13-76 12 68 13 68 13-244 12 217 13 216 13-103 12-103 13 299 13-288 12 760 13-407 12-407 13 195 13-184 12 119 13-244 13-244 12 700 13-548 13 202 12 203 13 202 13-596 12 488 13-68 13-68 12-133 13-132 12 482 13-282 13-282 12 559 13-87 13-87 12-168 13-168 13 220 12 219 13-510 13 301 12 302 13-386 13 277 12-111 13-111 13 320 12-307 13-306 12 569 13-401 13 862 12-290 13-290 13 108 12-314 13 91 13 91 12 90 13 91 13-331 12 150 13 149 13-304 12-304 13 667 12-306 13-307 13 429 12-73 13-73 13 200 12-672 13 775 13-640 12 700 13-141 13-141 12-141 13 336 13-401 12 190 13 189 12-146 13 255 13-366 12-366 13 873 13-391 12-390 13 521 13-250 12 65 13-54 13-54 12-122 13-122 13 417 12 27 13 27 12 76 13 76 13-255 12 125 13 136 13-418 12 206 13-461 13 285 12 285 13-299 13 179 12-27 13-27 13-157 12-157 13 290 13 290 12-467 13 179 12 179 13-395 13 214 12 214 13-526 13 412 12 6 13 5 13 152 12-564 13 520 13-130 12-130 13 149 13 149 12-477 13 608 12-635 13 656 13-236 12-236 13 554 13-380 12-380 13 548 13-301 12-301 13 521 13-318 12-317 13 407 13-179 12 323 13 322 12-258 13-259 13-258 12 247 13 246 13-406 12 48 13 179 13-336 12 711 13-282 13-282 12 260 13-266 13 526 12-233 13-233 13 249 12-200 13-201 12 537 13-166 13-165 12 260 13-222 13 233 12-401 13 323 13 322 12-569 13 157 13 157 12-488 13 231 13 230 12-369 13 285 12 285 13-488 13 133 12 133 13 84 13 84 12-234 13-233 13 434 12-241 13-242 13 445 12-320 13 64 13 64 12 18 13 17 12-298 13 162 13-138 12-138 13 916 13-193 12-194 13-40 13-39 12-385 13 553 13-217 12-217 13 130 13 103 12 103 13-100 12-100 13 450 13-364 12-363 13 586 13-450 12 276 13 277 13-586 12 274 13 274 13-260 12 222 13-597 13 274 12 274 13-361 13-360 12 162 13 163 12 548 13-222 13-223 12 168 13-162 13-163 12 564 13-786 13 330 12 331 13-236 13-236 12 174 13 174 13 173 12-314 13 322 12 323 13-987 13 323 12 322 13-428 13 92 12-152 13 125 13 125 12-375 13 158 13 157 12-288 13 429 13-152 12-152 13 515 12-371 13-372 13 281 12 280 13 280 13-352 12-353 13 366 13 366 12-607 13 396 13-331 12 106 13 105 13-260 12 190 13 190 13-206 12 211 13-377 12-377 13 895 13-710 12 390 13 391 13-695 12 250 13 249 13-130 12-222 13-223 13-222 12 825 13-237 13 97 12 96 13-282 12 504 13-214 13-214 12 358 13-323 13-322 12 287 13-11"/>
<path d="M1546 12005l13 31 12 32 13 786 13-568 12 262 13-187 13 293 12-134 13-134 12 6 13 118 13-81 12-101 13-102 13 348 12 348 13-305 13-306 12 204 13 203 13 204 12-369 13-369 13 166 12 167 13-346 12 207 13 207 13-106 12-106 13-106 13 81 12-99 13-100 13 411 12-62 13 134 13 134 12-517 13 296 13 296 12-309 13-308 13 159 12 159 13-281 12-281 13 254 13 254 12 253 13-297 13-298 12 214 13 213 13-91 12-90 13-53 13-53 12 100 13-312 13 343 12 343 13-195 12-196 13-195 13 296 12 296 13-277 13-278 12 337 13 337 13-375 12-374 13 443 13-188 12-189 13-188 13 727 12-224 13-225 12 75 13 75 13-187 12 274 13-193 13-194 12 198 13 198 13 197 12-193 13-28 13-28 12-425 13 356 13 355 12-293 13-293 13-293 12 477 13 477 12-268 13-268 13-268 12 352 13 353 13-350 12 112 13 78 13 78 12-210 13-211 13-211 12 514 13-187 13-187 12 530 13-210 12-210 13-210 13 973 12-376 13-377 13-376 12 617 13-62 13 37 12-368 13 724 13-233 12-233 13-233 13 237 12 237 13 237 12-374 13-43 13-44 12 443 13-880 13 123 12 123 13 122 13-40 12-55 13-54 13 561 12-37 13-225 13-225 12 362 13-237 12-237 13 48 13 557 12-252 13-253 13 256 12 255 13-135 13-135 12-135 13 262 13-50 12-100 13-100 13 244 12 243 13-580 13 200 12-75 13-75 12 256 13-116 13-115 12-116 13-115 13 306 12-200 13 343 13-81 12-243 13-244 13 266 12 265 13-269 13 216 12 215 13-183 12-183 13-183 13 260 12 260 13 260 13-359 12-359 13 337 13-131 12-62 13-63 13 172 12 171 13-474 13 234 12 234 13-106 12-249 13 170 13 171 12 170 13-321 13-321 12 243 13 243 13-206 12-205 13 399 13-200 12 343 13-673 13 336 12 337 13-280 13 149 12-196 13-197 12 250 13-356 13 284 12 284 13-212 13-212 12-212 13 228 13 229 12 229 13-275 13-274 12 499 13-203 13-203 12 275 13-94 12-93 13-131 13-131 12 318 13 318 13-207 12-207 13 194 13 195 12-736 13 75 13 293 12 293 13-206 13-205 12 24 13 662 12-340 13-340 13 43 12 159 13 160 13-587 12 493 13-112 13 443 12-437 13-59 13-60 12 106 13-112 13 169 12-159 13-160 12 256 13-121 13-122 12 452 13 452 13-343 12-343 13 156 13-237 12 81 13-187 13 537 12-306 13-306 13 331 12-256 13 162 13 3 12 4 13 171 12 172 13-265 13-266 12 353 13 352 13-486 12 87 13-281 13 259 12 259 13-268 13-268 12 230 13 231 13-199 12-200 13 123 12 122 13 123 13-299 12 630 13-354 13-353 12-354 13 624 13-137 12 199 13 200 13-686 12 524 13-340 13-340 12 471 13 471 12-247 13-246 13 131 12-81 13-117 13-116 12-116 13 205 13 206 12-162 13 175 13-175 12 480 13-218 13-218 12 159 13 159 13-222 12-221 13 381 12-117 13-117 13-117 12-117 13 315 13 315 12-356 13 122 13 121 12-424 13 412 13-399 12 206 13-117 13-116 12-117 13 312 12 312 13-281 13-280 12 249 13 250 13-549 12 162 13-87 13 293 12-91 13-90 13 262 12-175 13 325 13-272 12-271 13 190 12 190 13-430 13 368 12-274 13 542 13-312 12-312 13 375 13-71 12-71 13-70 13 102 12 101 13 102 13-114 12-114 13-115 12 574 13-349 13-350 12 131 13 131 13 131 12-486 13 624 13-184 12-184 13 106 13 106 12-94 13 75 13-337 12-9 13-10 13 375 12-290 13-290 12 271 13 271 13-87 12-87 13 106 13 106 12-100 13 122 13 121 12-219 13-220 13 152 12-68 13 486 13-340 12-340 13 449 12-324 13 536 13-209 12-208 13 174 13 175 12-209 13-209 13 343 12-259 13-259 13 240 12 241 13-194 13 206 12-249 13 140 12 140 13-277 13-278 12 252 13 251 13 252 12-312 13-312 13 393 12-208 13-208 13-208 12 618 13-81 13-81 12-81 13-82 13 200 12 200 13-306 12 131 13-25 13 312 12-253 13-252 13 536 12-228 13-227 13 274 12 275 13-555 13 274 12-480 13 293 13 293 12-278 13-277 12 524 13-281 13 200 12-156 13-156 13 486 12-436 13 31" stroke="#0b24ff"/>
<path transform="translate(8644 9698)" stroke="#ff2200" d="M0 -122l13 645 12-1060 13 1156 13-898 12 880 13-845 13 796 12-810 13 550 12-339 13 93 13-141 12 3 13 83 13 60 12 1 13 251 13-516 12 535 13-627 13 585 12-592 13 611 13-722 12 919 13-947 12 1011 13-1025 13 1079 12-1180 13 1173 13-1043 12 1002 13-958 13 1061 12-1099 13 737 13-566 12 566 13-561 13 431 12-244 13 81 13-272 12 178 13-9 12 16 13-31 13 212 12-418 13 510 13-233 12 213 13-338 13 488 12-683 13 780 13-984 12 1029 13-1055 13 1242 12-1265 13 1214 12-1211 13 1182 13-1239 12 1243 13-947 13 613 12-411 13 399 13-668 12 698 13-839 13 705 12-451 13 459 13-339 12 87 13 63 12 88 13-223 13 550 12-665 13 706 13-740 12 828 13-855 13 845 12-977 13 1189 13-1267 12 1037 13-1355 13 1430 12-1024 13 1043 13-954 12 747 13-652 12 581 13-605 13 567 12-470 13 452 13-368 12 289 13-127 13 29 12-81 13-30 13-41 12-8 13-80 13 492 12-721 13 745 12-621 13 560 13-463 12 650 13-769 13 772 12-886 13 909 13-941 12 1022 13-817 13 845 12-756 13 405 13-880 12 798 13-290 12 59 13-155 13 363 12-278 13 355 13-136 12 139 13-245 13-58 12-234 13 459 13-327 12 376 13-487 13 677 12-739 13 814 12-845 13 980 13-1081 12 1087 13-1018 13 1026 12-1149 13 1036 13-1013 12 1024 13-873 13 856 12-828 13 861 13-803 12 550 13-612 13 462 12-208 13 150 12-212 13 343 13-101 12 84 13-114 13-68 12-155 13 381 13-438 12 465 13-599 13 666 12-632 13 738 13-843 12 971 13-1224 12 1254 13-1072 13 1106 12-1127 13 901 13-894 12 661 13-554 13 396 12-91 13 56 13-81 12 177 13-55 13 159 12-466 13 470 12-168 13 87 13-1 12-23 13-486 13 436 12-116 13 306 13-411 12 782 13-1154 13 1142 12-853 13 1080 13-1551 12 1562 13-1356 13 983 12-748 13 574 12-497 13 383 13-526 12 529 13-259 13 246 12-23 13-18 13-88 12 251 13-281 13 437 12-619 13 505 13-575 12 637 13-650 12 571 13-690 13 692 12-715 13 644 13-565 12 814 13-648 13 869 12-866 13 714 13-923 12 809 13-711 13 574 12-784 13 1032 12-821 13 676 13-659 12 477 13-518 13 627 12-506 13 541 13-307 12 87 13-423 13 317 12-51 13 69 13-421 12 688 13-669 12 899 13-1034 13 1030 12-1179 13 1137 13-886 12 775 13-965 13 956 12-813 13 745 13-512 12 505 13-534 13 551 12-744 13 857 13-647 12 429 13-394 12 398 13-381 13 204 12-197 13 346 13-258 12 564 13-575 13 532 12-741 13 712 13-812 12 855 13-889 13 958 12-1061 13 1091 12-1115 13 1062 13-1125 12 997 13-867 13 1214 12-985 13 451 13-213 12 213 13-472 13 451 12-445 13 425 13-415 12 466 13-434 12 464 13-253 13 169 12-140 13 30 13-238 12 628 13-734 13 710 12-759 13 778 13-787 12 979 13-1022 13 1024 12-1124 13 1050 13-958 12 881 13-879 12 832 13-836 13 781 12-860 13 848 13-707 12 577 13-480 13 266 12-100 13 190 13-364 12 388 13-482 13 489 12-524 13 515 12-431 13 454 13-482 12 680 13-722 13 664 12-666 13 756 13-1168 12 1156 13-989 13 910 12-687 13 683 13-671 12 694 13-697 12 545 13-100 13 13 12-91 13 181 13-291 12 255 13-233 13 361 12-114 13 91 13-70 12 35 13-50 13 344 12-806 13 696 12-697 13 705 13-757 12 696 13-626 13 869 12-870 13 807 13-875 12 1036 13-1040 13 830 12-719 13 672 13-638 12 479 13-581 13 600 12-718 13 767 12-584 13 504 13-267 12 149 13-102 13 191 12-132 13 162 13-186 12 140 13-570 13 680 12-637 13 793 13-1001 12 925 13-731 12 1084 13-992 13 692 12-762 13 774 13-882 12 827 13-525 13 545 12-529 13 500 13-476 12 389 13-349 13 363 12-578 13 585 12-558 13 275 13-5 12 10 13-185 13 501 12-607 13 673 13-666 12 887 13-950 13 1025 12-952 13 644 13-735 12 768 13-902 13 925 12-1038 13 1202 12-944 13 741 13-732 12 825 13-694 13 518 12-583 13 440 13-513 12 510 13-125 13 38 12-47 13-88 13-15 12 62 13 21 12 63 13 23 13 210 12-441 13 342 13-164 12-24 13-55"/>
<path transform="translate(8644 11062)" stroke="#067a08" d="M0 -51l13 157 12-364 13 190 13 190 12-155 13-154 13 146 12-130 13 168 12-157 13-157 13 721 12-306 13-307 13 705 12-352 13-353 13 548 12-559 13 204 13 203 12-401 13 160 13 160 12-277 13 581 12-998 13 227 13 228 12-97 13 330 13 331 12-569 13 141 13-82 12-81 13 293 13-250 12 310 13 309 13-949 12 393 13 393 13-287 12 499 13-282 12-283 13 521 13-607 12 591 13-423 13-423 12 328 13 328 13-266 12 44 13-225 13-225 12 574 13-374 13 190 12 190 13-277 12 217 13 217 13-331 12 163 13-494 13 250 12 249 13-138 13-138 12 483 13-678 13 688 12-330 13-331 13 564 12-510 13 220 12 219 13-331 13 350 12 350 13-879 13 215 12 214 13-33 13-32 12-407 13 559 13-345 12-344 13 618 13 65 12 65 13-195 13 618 12-998 13 418 12-597 13 285 13 285 12-429 13 456 13-106 12-105 13 260 13-160 12-160 13 217 13-255 12 314 13-358 13-357 12 721 13-385 12 211 13 212 13-277 12-276 13 781 13-516 12 293 13-450 13 176 12 177 13-128 13-127 12 303 13-428 13 203 12 204 13-418 12 364 13 363 13-787 12 44 13-8 13-8 12 808 13-385 13-385 12 710 13-851 13 349 12 350 13-488 13 439 12-509 13 374 12-136 13-135 13 137 12 137 13 138 13-122 12-122 13 130 13 130 12-868 13 429 13 428 12-363 13 683 13-797 12 548 13-237 13-237 12-237 13 385 12-336 13 510 13-220 12-219 13 146 13-76 12 68 13 68 13-244 12 217 13 216 13-103 12-103 13 299 13-288 12 760 13-407 12-407 13 195 13-184 12 119 13-244 13-244 12 700 13-548 13 202 12 203 13 202 13-596 12 488 13-68 13-68 12-133 13-132 12 482 13-282 13-282 12 559 13-87 13-87 12-168 13-168 13 220 12 219 13-510 13 301 12 302 13-386 13 277 12-111 13-111 13 320 12-307 13-306 12 569 13-401 13 862 12-290 13-290 13 108 12-314 13 91 13 91 12 90 13 91 13-331 12 150 13 149 13-304 12-304 13 667 12-306 13-307 13 429 12-73 13-73 13 200 12-672 13 775 13-640 12 700 13-141 13-141 12-141 13 336 13-401 12 190 13 189 12-146 13 255 13-366 12-366 13 873 13-391 12-390 13 521 13-250 12 65 13-54 13-54 12-122 13-122 13 417 12 27 13 27 12 76 13 76 13-255 12 125 13 136 13-418 12 206 13-461 13 285 12 285 13-299 13 179 12-27 13-27 13-157 12-157 13 290 13 290 12-467 13 179 12 179 13-395 13 214 12 214 13-526 13 412 12 6 13 5 13 152 12-564 13 520 13-130 12-130 13 149 13 149 12-477 13 608 12-635 13 656 13-236 12-236 13 554 13-380 12-380 13 548 13-301 12-301 13 521 13-318 12-317 13 407 13-179 12 323 13 322 12-258 13-259 13-258 12 247 13 246 13-406 12 48 13 179 13-336 12 711 13-282 13-282 12 260 13-266 13 526 12-233 13-233 13 249 12-200 13-201 12 537 13-166 13-165 12 260 13-222 13 233 12-401 13 323 13 322 12-569 13 157 13 157 12-488 13 231 13 230 12-369 13 285 12 285 13-488 13 133 12 133 13 84 13 84 12-234 13-233 13 434 12-241 13-242 13 445 12-320 13 64 13 64 12 18 13 17 12-298 13 162 13-138 12-138 13 916 13-193 12-194 13-40 13-39 12-385 13 553 13-217 12-217 13 130 13 103 12 103 13-100 12-100 13 450 13-364 12-363 13 586 13-450 12 276 13 277 13-586 12 274 13 274 13-260 12 222 13-597 13 274 12 274 13-361 13-360 12 162 13 163 12 548 13-222 13-223 12 168 13-162 13-163 12 564 13-786 13 330 12 331 13-236 13-236 12 174 13 174 13 173 12-314 13 322 12 323 13-987 13 323 12 322 13-428 13 92 12-152 13 125 13 125 12-375 13 158 13 157 12-288 13 429 13-152 12-152 13 515 12-371 13-372 13 281 12 280 13 280 13-352 12-353 13 366 13 366 12-607 13 396 13-331 12 106 13 105 13-260 12 190 13 190 13-206 12 211 13-377 12-377 13 895 13-710 12 390 13 391 13-695 12 250 13 249 13-130 12-222 13-223 13-222 12 825 13-237 13 97 12 96 13-282 12 504 13-214 13-214 12 358 13-323 13-322 12 287 13-11"/>
<path d="M8644 12076l13 514 12 513 13-462 13-463 12 127 13 127 13 26 12 25 13-81 12 722 13-377 13-376 12 244 13-417 13 732 12-183 13-183 13-183 12 387 13 386 13-554 12-554 13 188 13 188 12-539 13 25 12 26 13 1871 13-803 12-865 13-864 13 437 12 437 13 377 13 376 12-46 13-46 13-625 12-625 13 513 13 514 12-183 13-183 13 976 12-370 13-369 12-370 13 300 13 300 12-549 13 153 13 152 12 153 13-127 13-127 12-382 13-381 13 129 12 129 13 358 13 358 12 358 13-707 12-706 13 1179 13-432 12-432 13 356 13 356 12 356 13-595 13-595 12 318 13 319 13 319 12-732 13 1362 13-244 12-244 13-244 12-244 13-356 13-356 12 265 13 264 13 51 12 51 13 427 13 427 12-739 13-739 13-739 12 1363 13 1362 13-1464 12 437 13-2263 13 1182 12 1183 13-254 12-255 13 51 13 224 12 224 13-204 13-203 12 244 13 254 13-251 12-250 13-251 13 529 12-117 13-117 13 86 12 87 13-300 12-300 13 859 13 859 12-747 13-748 13 804 12-329 13-329 13-329 12 661 13 661 13-613 12-614 13-613 13 828 12 829 13-427 12 66 13 66 13-193 12 478 13-997 13-203 12 315 13 316 13-316 12 326 13-936 13 1271 12-234 13 75 13 75 12 74 13-407 12-406 13 401 13 402 12-422 13-422 13 742 12 488 13-447 13-448 12 1506 13-514 13-514 12 194 13 193 13-268 12-268 13-267 13 91 12 92 13-173 12 437 13-231 13-230 12-231 13 255 13 254 12-387 13 387 13-310 12-310 13 244 13 244 12-234 13-234 13-834 12 3590 13-1221 12-1220 13 188 13 188 12 214 13-1546 13 804 12 803 13-239 13-239 12-15 13-15 13 183 12-570 13 326 13 325 12-173 13-173 12-25 13-26 13 519 12-290 13-290 13-162 12 244 13 244 13-224 12 986 13-461 13-461 12-461 13 651 13 651 12-610 13 661 13-737 12-738 13 438 12-316 13 1177 13 1177 12-1672 13-180 13-180 12-179 13 157 13 158 12-285 13-284 13 391 12 392 13-31 13 458 12-377 13-376 12-376 13 216 13 216 12 216 13 216 13-45 12-46 13 915 13-1210 12-1210 13 818 13 819 12-229 13-229 13 72 12 71 13-361 12-361 13 371 13 371 12-300 13-300 13 107 12 107 13 711 13-239 12-238 13-255 13 82 12 81 13 107 13 107 12-260 13-259 12 630 13-813 13 986 12 987 13-641 13-641 12 219 13 219 13-1587 12 702 13 320 13 321 12-590 13 198 13 198 12-457 13-458 13 414 12 413 13 414 12-241 13-241 13-240 12 864 13-325 13-326 12-315 13-315 13 257 12 258 13 258 13-265 12 529 13-297 13-298 12-297 13-298 12 870 13 869 13-234 12 550 13-1084 13-1083 12 489 13 488 13 290 12 289 13-462 13-463 12 590 13-1027 13 823 12 824 13-458 12-457 13 25 13 26 12-31 13-30 13-285 12 407 13-336 13-335 12 513 13 514 13-194 12 265 13 264 13-707 12-706 13 905 13-631 12 514 13 513 12-359 13-359 13-360 12 377 13 376 13-214 12 214 13 213 13-259 12-259 13-158 13-157 12 162 13 163 13-351 12-351 13 1404 12-427 13-428 13 300 12 300 13-503 13-503 12 671 13 671 13-542 12-543 13-542 13 569 12 285 13 285 13-264 12-265 13 326 12 325 13-814 13 499 12-438 13 682 13-529 12 305 13-132 13-132 12-133 13 156 13 156 12 156 13-264 13-265 12 211 13 211 12 211 13 211 13-1261 12 278 13 278 13 278 12-172 13 1342 13-1022 12-1022 13 966 13-219 12-218 13 478 13-407 12 224 13-753 13 620 12-351 13-350 12 1108 13-166 13-166 12-166 13 234 13 234 12-194 13 377 13-331 12-330 13 167 13 168 12-285 13 1007 13-1118 12 325 13-1914 12 977 13 978 13 86 12 87 13-163 13 478 12-804 13 397 13-224 12-223 13 325 13-203 12 671 13-407 13-208 12-209 13 295 12-127 13-127 13 244 12 244 13 244 13-236 12-237 13-236 13-237 12 305 13-457 13 1088 12-158 13-157 13-221 12-220 13-220 13 593 12 593 13 593 12-691 13 173 13-580 12-580 13-579 13 1210 12-305 13 203 13 264 12 265 13-712 13 620 12-884 13 650 13-274 12-275 13 194 12 193 13-193 13 427 12-194 13-193 13 295 12-396 13 91" stroke="#0b24ff"/></g>
<rect x="1550" y="241.1" width="221" height="68.3" class="bx"/>
<text x="1565.3" y="288.7" class="bt" textLength="133" lengthAdjust="spacingAndGlyphs">F1≈19.1</text>
<text x="1709.6" y="288.7" class="bt" textLength="46" lengthAdjust="spacingAndGlyphs">Hz</text>
<rect x="1550" y="377.5" width="221" height="68.3" class="bx"/>
<text x="1565.3" y="425.1" class="bt" textLength="133" lengthAdjust="spacingAndGlyphs">F2≈11.1</text>
<text x="1709.6" y="425.1" class="bt" textLength="46" lengthAdjust="spacingAndGlyphs">Hz</text>
<rect x="1550" y="514.0" width="221" height="68.3" class="bx"/>
<text x="1565.3" y="561.6" class="bt" textLength="133" lengthAdjust="spacingAndGlyphs">F3≈12.7</text>
<text x="1709.6" y="561.6" class="bt" textLength="46" lengthAdjust="spacingAndGlyphs">Hz</text>
<rect x="1550" y="935.7" width="221" height="68.3" class="bx"/>
<text x="1565.3" y="983.3" class="bt" textLength="133" lengthAdjust="spacingAndGlyphs">F1≈48.4</text>
<text x="1709.6" y="983.3" class="bt" textLength="46" lengthAdjust="spacingAndGlyphs">Hz</text>
<rect x="1550" y="1072.1" width="221" height="68.3" class="bx"/>
<text x="1565.3" y="1119.7" class="bt" textLength="133" lengthAdjust="spacingAndGlyphs">F2≈36.6</text>
<text x="1709.6" y="1119.7" class="bt" textLength="46" lengthAdjust="spacingAndGlyphs">Hz</text>
<rect x="1550" y="1208.6" width="221" height="68.3" class="bx"/>
<text x="1565.3" y="1256.2" class="bt" textLength="133" lengthAdjust="spacingAndGlyphs">F3≈23.9</text>
<text x="1709.6" y="1256.2" class="bt" textLength="46" lengthAdjust="spacingAndGlyphs">Hz</text>
</svg></body></html>
